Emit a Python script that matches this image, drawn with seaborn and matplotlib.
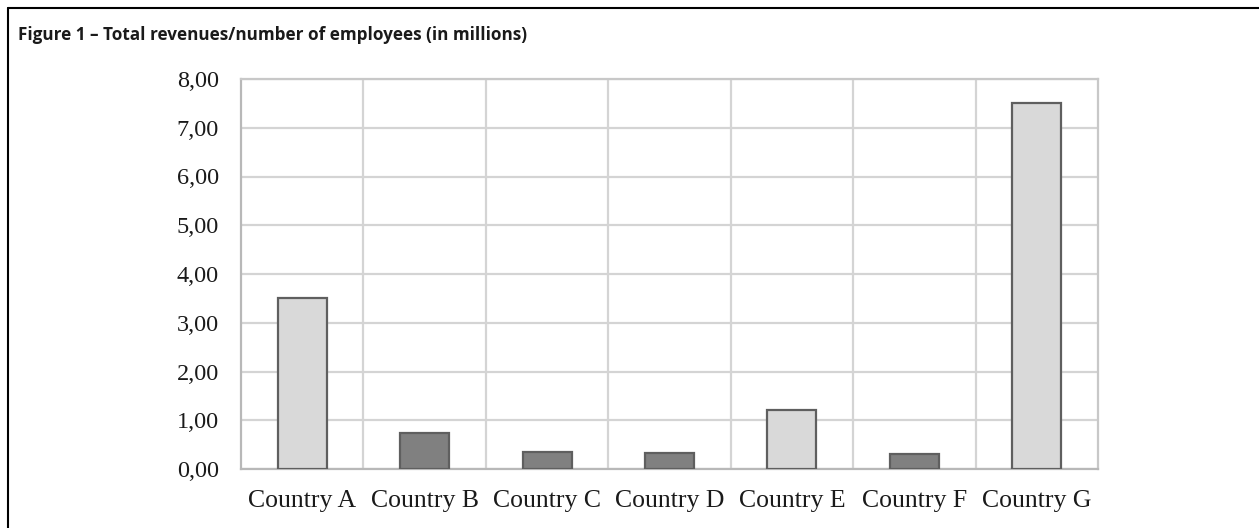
import matplotlib
matplotlib.use("Agg")
import matplotlib.pyplot as plt
from matplotlib.lines import Line2D
import seaborn as sns
import pandas as pd

categories = ["Country A", "Country B", "Country C", "Country D", "Country E", "Country F", "Country G"]
values = [3.50, 0.74, 0.35, 0.33, 1.21, 0.31, 7.51]
bar_colors = ["#d9d9d9", "#808080", "#808080", "#808080", "#d9d9d9", "#808080", "#d9d9d9"]
y_ticks = [0, 1, 2, 3, 4, 5, 6, 7, 8]
y_tick_labels = ["0,00", "1,00", "2,00", "3,00", "4,00", "5,00", "6,00", "7,00", "8,00"]
title = "Figure 1 \u2013 Total revenues/number of employees (in millions)"

sns.set_theme(style="white")
plt.rcParams["font.family"] = ["Liberation Serif", "DejaVu Serif"]

df = pd.DataFrame({"country": categories, "value": values})

fig = plt.figure(figsize=(12.59, 5.28), dpi=100)
ax = fig.add_axes([241 / 1259, 59 / 528, 857 / 1259, 390 / 528])

sns.barplot(data=df, x="country", y="value", hue="country", palette=bar_colors,
            width=0.4, edgecolor="#5f5f5f", linewidth=1.6, legend=False, ax=ax,
            zorder=3)

ax.set_ylim(0, 8)
ax.set_xlim(-0.5, len(categories) - 0.5)
ax.set_yticks(y_ticks)
ax.set_yticklabels(y_tick_labels)
ax.set_xlabel("")
ax.set_ylabel("")
ax.tick_params(axis="both", length=0, colors="#1a1a1a")
ax.tick_params(axis="y", pad=16, labelsize=17.5)
ax.tick_params(axis="x", pad=15, labelsize=18.5)

# horizontal gridlines
ax.yaxis.grid(True, color="#d4d4d4", linewidth=1.6, zorder=0)
# vertical gridlines at category boundaries
for b in [i + 0.5 for i in range(len(categories) - 1)]:
    ax.axvline(b, color="#d4d4d4", linewidth=1.6, zorder=0)

for side in ["left", "right", "top", "bottom"]:
    ax.spines[side].set_visible(True)
    ax.spines[side].set_color("#c8c8c8")
    ax.spines[side].set_linewidth(1.6)
ax.spines["left"].set_color("#b8b8b8")
ax.spines["bottom"].set_color("#b8b8b8")

# figure frame (left and top rules)
fig.add_artist(Line2D([8 / 1259, 8 / 1259], [0, 1 - 8 / 528], color="black", linewidth=1.5,
                      transform=fig.transFigure))
fig.add_artist(Line2D([8 / 1259, 1], [1 - 8 / 528, 1 - 8 / 528], color="black", linewidth=1.5,
                      transform=fig.transFigure))

fig.text(18 / 1259, 1 - 40 / 528, title, family=["Open Sans", "DejaVu Sans"],
         fontweight="bold", fontsize=12.3, color="#1a1a1a", ha="left", va="baseline")

fig.savefig("out.png", dpi=100, facecolor="white")
